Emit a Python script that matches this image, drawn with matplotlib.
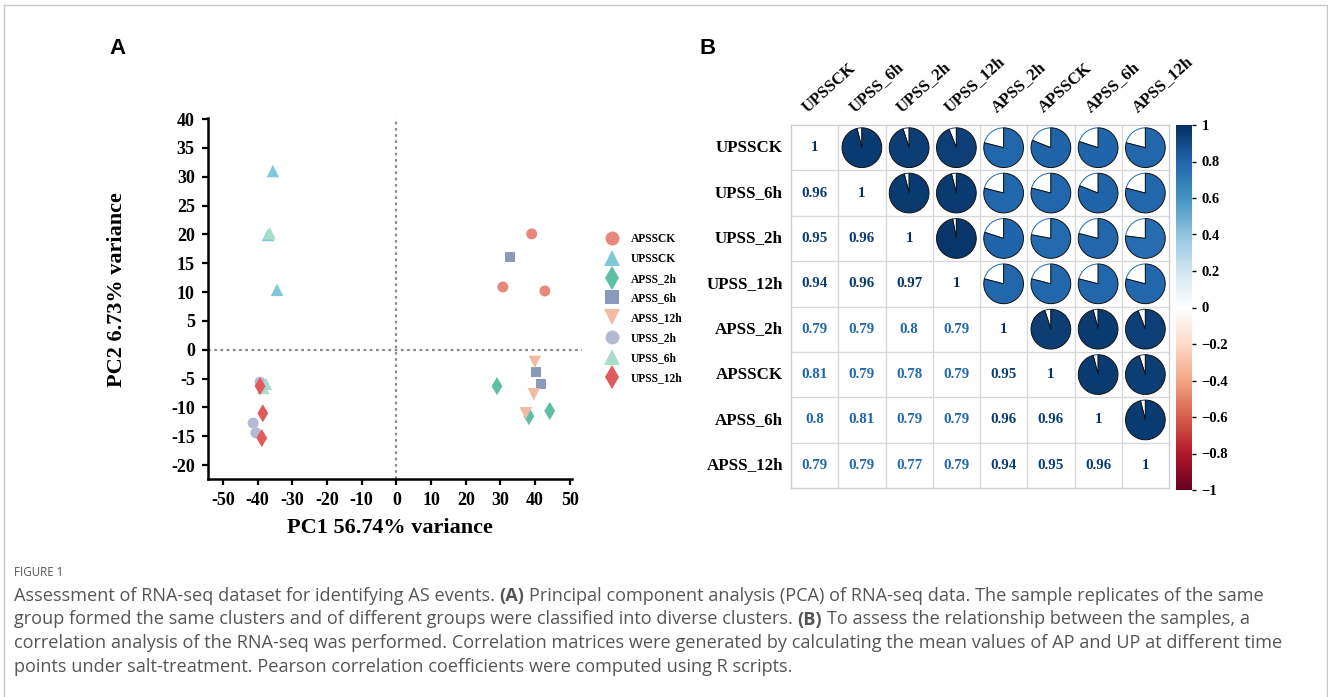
import numpy as np
import matplotlib
matplotlib.use('Agg')
import matplotlib.pyplot as plt
import matplotlib.transforms as mtransforms
from matplotlib.colors import LinearSegmentedColormap, Normalize
from matplotlib.patches import Wedge
from matplotlib.lines import Line2D

plt.rcParams['axes.unicode_minus'] = False

W, H = 1328, 697
fig = plt.figure(figsize=(W / 100, H / 100), dpi=100)
SERIF = 'Liberation Serif'

# ---- PCA scores ----
groups = ['APSSCK', 'UPSSCK', 'APSS_2h', 'APSS_6h', 'APSS_12h', 'UPSS_2h', 'UPSS_6h', 'UPSS_12h']
apssck_pc1 = [39.0, 30.7, 42.8]
apssck_pc2 = [20.1, 10.9, 10.2]
upssck_pc1 = [-35.6, -34.4, -37.0]
upssck_pc2 = [31.0, 10.4, 19.9]
apss2_pc1 = [29.0, 44.2, 38.2]
apss2_pc2 = [-6.3, -10.6, -11.5]
apss6_pc1 = [32.7, 40.2, 41.6]
apss6_pc2 = [16.1, -3.8, -5.9]
apss12_pc1 = [39.9, 39.6, 37.3]
apss12_pc2 = [-2.1, -7.7, -11.0]
upss2_pc1 = [-39.3, -41.3, -40.5]
upss2_pc2 = [-5.6, -12.7, -14.4]
upss6_pc1 = [-36.5, -37.6, -38.4]
upss6_pc2 = [20.2, -5.9, -6.6]
upss12_pc1 = [-39.3, -38.5, -38.8]
upss12_pc2 = [-6.3, -11.0, -15.3]

pc1 = [apssck_pc1, upssck_pc1, apss2_pc1, apss6_pc1, apss12_pc1, upss2_pc1, upss6_pc1, upss12_pc1]
pc2 = [apssck_pc2, upssck_pc2, apss2_pc2, apss6_pc2, apss12_pc2, upss2_pc2, upss6_pc2, upss12_pc2]

colors = ['#e8887c', '#7ec8da', '#5cbfa6', '#8b99bb', '#f3b9a2', '#b5b9d5', '#a9dccb', '#e05b5c']
markers = ['o', '^', 'd', 's', 'v', 'o', '^', 'd']
sizes = [62, 80, 85, 52, 80, 62, 80, 85]
leg_ms = [10, 11.5, 12, 9.5, 11.5, 10, 11.5, 12]

# ---- correlation matrix (lower triangle) ----
samples = ['UPSSCK', 'UPSS_6h', 'UPSS_2h', 'UPSS_12h', 'APSS_2h', 'APSSCK', 'APSS_6h', 'APSS_12h']
corr_lower = [
    [1],
    [0.96, 1],
    [0.95, 0.96, 1],
    [0.94, 0.96, 0.97, 1],
    [0.79, 0.79, 0.8, 0.79, 1],
    [0.81, 0.79, 0.78, 0.79, 0.95, 1],
    [0.8, 0.81, 0.79, 0.79, 0.96, 0.96, 1],
    [0.79, 0.79, 0.77, 0.79, 0.94, 0.95, 0.96, 1],
]
n = len(samples)
corr = np.ones((n, n))
for i, row in enumerate(corr_lower):
    for j, v in enumerate(row):
        corr[i, j] = v
        corr[j, i] = v

rdbu = ['#67001F', '#B2182B', '#D6604D', '#F4A582', '#FDDBC7', '#FFFFFF',
        '#D1E5F0', '#92C5DE', '#4393C3', '#2166AC', '#053061']
cmap = LinearSegmentedColormap.from_list('corr', rdbu)
norm = Normalize(-1, 1)


def px_axes(l, t, r, b):
    return fig.add_axes([l / W, 1 - b / H, (r - l) / W, (b - t) / H])


# outer frame
for xs, ys in [((4, 4), (697, 5)), ((4, 1327), (5, 5)), ((1327, 1327), (5, 697))]:
    fig.add_artist(Line2D([x / W for x in xs], [1 - y / H for y in ys], color='#c8c8c8', lw=1))

# ================= panel A =================
ax = px_axes(208, 118, 582, 479)
for g in range(len(groups)):
    ax.scatter(pc1[g], pc2[g], s=sizes[g], marker=markers[g], color=colors[g],
               edgecolors='none', zorder=3)
ax.set_xlim(-54.3, 53.5)
ax.set_ylim(-22.4, 40.2)
ax.axhline(0, color='#8a8a8a', lw=1.6, ls=(0, (1.2, 1.6)), zorder=1)
ax.axvline(0, color='#8a8a8a', lw=1.6, ls=(0, (1.2, 1.6)), zorder=1)
ax.spines['top'].set_visible(False)
ax.spines['right'].set_visible(False)
ax.spines['left'].set_linewidth(1.8)
ax.spines['bottom'].set_linewidth(1.8)
ax.spines['bottom'].set_bounds(-54.3, 50.6)
ax.set_xticks(np.arange(-50, 51, 10))
ax.set_yticks(np.arange(-20, 41, 5))
ax.tick_params(width=1.6, length=4.5, labelsize=13, pad=5)
for lab in ax.get_xticklabels() + ax.get_yticklabels():
    lab.set_fontfamily(SERIF)
    lab.set_fontweight('bold')

fig.text(390 / W, 1 - 528 / H, 'PC1 56.74% variance', family=SERIF, fontweight='bold',
         fontsize=16, ha='center', va='center')
fig.text(117 / W, 1 - 290 / H, 'PC2 6.73% variance', family=SERIF, fontweight='bold',
         fontsize=16, ha='center', va='center', rotation=90)

handles = [Line2D([], [], ls='none', marker=markers[g], color=colors[g], markersize=leg_ms[g],
                  markeredgewidth=0) for g in range(len(groups))]
fig.legend(handles, groups, loc='upper left', bbox_to_anchor=(603 / W, 1 - 233 / H),
           frameon=False, prop={'family': SERIF, 'weight': 'bold', 'size': 8.3},
           labelspacing=0.68, handlelength=1.6, handletextpad=0.8,
           borderpad=0, borderaxespad=0)

fig.text(117 / W, 1 - 48 / H, 'A', family='Liberation Sans', fontweight='bold',
         fontsize=16, ha='center', va='center')
fig.text(708 / W, 1 - 48 / H, 'B', family='Liberation Sans', fontweight='bold',
         fontsize=16, ha='center', va='center')

# ================= panel B =================
ax2 = px_axes(791, 125, 1169, 488)
ax2.set_xlim(0, n)
ax2.set_ylim(n, 0)
ax2.set_xticks([])
ax2.set_yticks([])
for s in ax2.spines.values():
    s.set_color('#cfcfcf')
    s.set_linewidth(1)
for k in range(1, n):
    ax2.axvline(k, color='#d8d8d8', lw=1)
    ax2.axhline(k, color='#d8d8d8', lw=1)

r_pt = 14.3
for i in range(n):
    for j in range(n):
        v = corr[i, j]
        c = cmap(norm(v))
        if j <= i:
            ax2.text(j + 0.5, i + 0.5, f'{v:g}', ha='center', va='center', family=SERIF,
                     fontweight='bold', fontsize=10.8, color=c)
        else:
            tr = (mtransforms.Affine2D().scale(fig.dpi / 72.0)
                  + mtransforms.ScaledTranslation(j + 0.5, i + 0.5, ax2.transData))
            ang = 360 * abs(v)
            w1 = Wedge((0, 0), r_pt, 90 - ang, 90, facecolor=c, edgecolor='#111111',
                       lw=0.7, transform=tr)
            w2 = Wedge((0, 0), r_pt, 90, 450 - ang, facecolor='white', edgecolor=c,
                       lw=0.7, transform=tr)
            ax2.add_artist(w2)
            ax2.add_artist(w1)

for i, name in enumerate(samples):
    ax2.text(-0.17, i + 0.5, name, ha='right', va='center', family=SERIF,
             fontweight='bold', fontsize=12.2)
    ax2.text(i + 0.5 - 0.1, -0.2, name, ha='left', va='bottom', rotation=42,
             rotation_mode='anchor', family=SERIF, fontweight='bold', fontsize=12)

cax = px_axes(1176, 125, 1192, 490)
sm = plt.cm.ScalarMappable(norm=norm, cmap=cmap)
cb = fig.colorbar(sm, cax=cax, ticks=np.linspace(-1, 1, 11))
cb.outline.set_visible(False)
cb_labels = ['\u22121', '\u22120.8', '\u22120.6', '\u22120.4', '\u22120.2', '0',
             '0.2', '0.4', '0.6', '0.8', '1']
cb.ax.set_yticklabels(cb_labels)
cb.ax.tick_params(length=3, width=1, pad=4, labelsize=10.5)
for lab in cb.ax.get_yticklabels():
    lab.set_fontfamily(SERIF)
    lab.set_fontweight('bold')

# ================= caption =================
renderer = fig.canvas.get_renderer()
CAP = 'Open Sans'
cap_color = '#555555'

lines = [
    [('Assessment of RNA-seq dataset for identifying AS events.', False), ('(A)', True),
     ('Principal component analysis (PCA) of RNA-seq data. The sample replicates of the same', False)],
    [('group formed the same clusters and of different groups were classified into diverse clusters.', False),
     ('(B)', True), ('To assess the relationship between the samples, a', False)],
    [('correlation analysis of the RNA-seq was performed. Correlation matrices were generated by '
      'calculating the mean values of AP and UP at different time', False)],
    [('points under salt-treatment. Pearson correlation coefficients were computed using R scripts.', False)],
]


def text_w(s, size, bold):
    t = fig.text(0, 0, s, fontsize=size, family=CAP, fontweight='bold' if bold else 'normal')
    w = t.get_window_extent(renderer).width
    t.remove()
    return w


def line_w(segs, size):
    sp = text_w('a a', size, False) - text_w('aa', size, False)
    return sum(text_w(s, size, b) for s, b in segs) + sp * (len(segs) - 1)


cap_size = 12 * 1247 / line_w(lines[0], 12)
space = text_w('a a', cap_size, False) - text_w('aa', cap_size, False)

fig.text(14 / W, 1 - 572 / H, 'FIGURE 1', family=CAP, fontsize=8.3, color='#555555',
         ha='left', va='center')
for k, segs in enumerate(lines):
    x = 14
    y = 596 + k * 23.5
    for s, b in segs:
        t = fig.text(x / W, 1 - y / H, s, family=CAP, fontsize=cap_size,
                     fontweight='bold' if b else 'normal', color=cap_color,
                     ha='left', va='center')
        x += t.get_window_extent(renderer).width + space

fig.savefig('out.png', dpi=100)
